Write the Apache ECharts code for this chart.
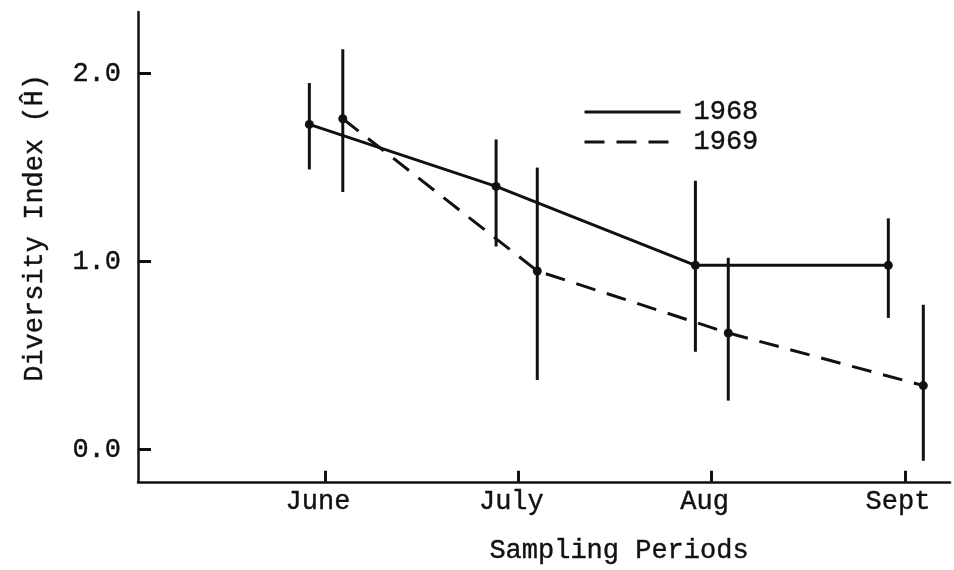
<!DOCTYPE html>
<html>
<head>
<meta charset="utf-8">
<script src="https://cdn.jsdelivr.net/npm/echarts@6/dist/echarts.min.js"></script>
<style>
  html, body { margin: 0; padding: 0; background: #fff; }
  #chart { width: 954px; height: 570px; }
</style>
</head>
<body>
<div id="chart"></div>
<script>
// Sampling months and their positions on the x scale
const months = ['June', 'July', 'Aug', 'Sept'];
const monthPos = [1, 2, 3, 4];
const yTicks = [0, 1, 2];

// Sampling dates (fraction of month position) for each year
const x1968 = [0.919, 1.885, 2.916, 3.914];
const x1969 = [1.092, 2.098, 3.086, 4.095];

// Diversity index (H) means and ranges
const mean1968 = [1.73, 1.40, 0.98, 0.98];
const low1968  = [1.49, 1.08, 0.52, 0.70];
const high1968 = [1.95, 1.65, 1.43, 1.23];

const mean1969 = [1.76, 0.95, 0.62, 0.34];
const low1969  = [1.37, 0.37, 0.26, -0.06];
const high1969 = [2.13, 1.50, 1.02, 0.77];

const FONT = 'Liberation Mono';
const INK = '#111';
// typewriter-weight text: a thin outline in the ink colour thickens the glyphs
const inkText = { fontFamily: FONT, fontSize: 27, color: INK, textBorderColor: INK, textBorderWidth: 0.4 };

function pts(xs, ys) { return xs.map((x, i) => [x, ys[i]]); }
function bars(xs, m, lo, hi) { return xs.map((x, i) => [x, m[i], lo[i], hi[i]]); }

function renderBar(params, api) {
  const x = api.value(0);
  const top = api.coord([x, api.value(3)]);
  const bot = api.coord([x, api.value(2)]);
  const mid = api.coord([x, api.value(1)]);
  return {
    type: 'group',
    children: [
      { type: 'line', shape: { x1: top[0], y1: top[1], x2: bot[0], y2: bot[1] },
        style: { stroke: INK, lineWidth: 3 } },
      { type: 'circle', shape: { cx: mid[0], cy: mid[1], r: 4.5 },
        style: { fill: INK } }
    ]
  };
}

const chart = echarts.init(document.getElementById('chart'), null, { renderer: 'canvas' });
chart.setOption({
  backgroundColor: '#fff',
  animation: false,
  textStyle: { fontFamily: FONT, color: INK },
  grid: { left: 138, right: 4, top: 12, bottom: 78 },
  legend: {
    orient: 'vertical',
    left: 578, top: 93,
    itemWidth: 96, itemHeight: 14, itemGap: 2,
    data: ['1968', '1969'],
    itemStyle: { opacity: 0 },
    lineStyle: { width: 3 },
    textStyle: Object.assign({}, inkText, { lineHeight: 28, padding: [0, 0, 0, 8] })
  },
  xAxis: {
    type: 'value',
    min: 0.0326, max: 4.233,
    name: 'Sampling Periods',
    nameLocation: 'middle',
    nameGap: 56,
    nameTextStyle: Object.assign({}, inkText, { padding: [0, 0, 0, 150] }),
    axisLine: { onZero: false, lineStyle: { color: INK, width: 2.5 } },
    axisTick: { show: true, inside: true, length: 11, lineStyle: { color: INK, width: 3 }, customValues: monthPos },
    axisLabel: Object.assign({}, inkText, {
      margin: 7,
      customValues: monthPos,
      padding: [0, 14, 0, 0],
      formatter: v => months[monthPos.indexOf(Math.round(v))] || ''
    }),
    splitLine: { show: false }
  },
  yAxis: {
    type: 'value',
    min: -0.172, max: 2.328,
    name: 'Diversity Index (Ĥ)',
    nameLocation: 'middle',
    nameGap: 90,
    nameRotate: 90,
    nameTextStyle: Object.assign({}, inkText, { padding: [0, 0, 0, 38] }),
    axisLine: { show: true, onZero: false, lineStyle: { color: INK, width: 2.5 } },
    axisTick: { show: true, inside: true, length: 13, lineStyle: { color: INK, width: 3 }, customValues: yTicks },
    axisLabel: Object.assign({}, inkText, {
      margin: 17,
      customValues: yTicks,
      formatter: v => v.toFixed(1)
    }),
    splitLine: { show: false }
  },
  series: [
    {
      name: '1968', type: 'line', symbol: 'none',
      data: pts(x1968, mean1968),
      lineStyle: { color: INK, width: 3 },
      itemStyle: { color: INK }
    },
    {
      name: '1969', type: 'line', symbol: 'none',
      data: pts(x1969, mean1969),
      lineStyle: { color: INK, width: 3, type: [20, 12] },
      itemStyle: { color: INK }
    },
    {
      name: 'range1968', type: 'custom', renderItem: renderBar,
      encode: { x: 0, y: [1, 2, 3] },
      data: bars(x1968, mean1968, low1968, high1968), z: 3
    },
    {
      name: 'range1969', type: 'custom', renderItem: renderBar,
      encode: { x: 0, y: [1, 2, 3] },
      data: bars(x1969, mean1969, low1969, high1969), z: 3
    }
  ]
});
</script>
</body>
</html>
